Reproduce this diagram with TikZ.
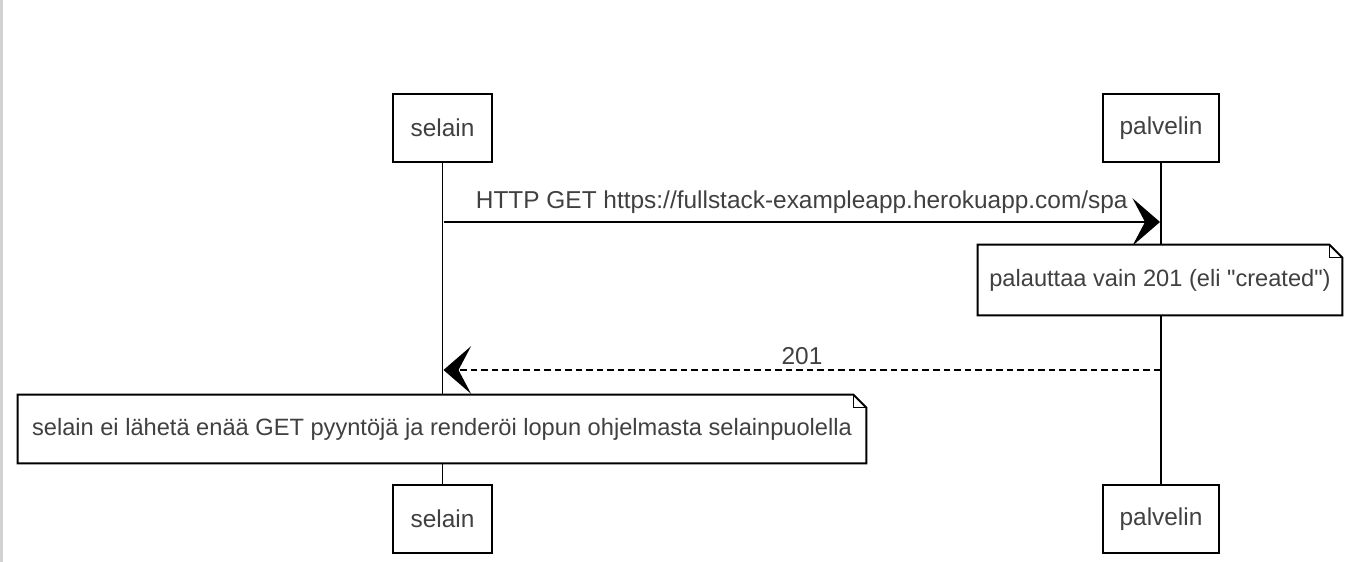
\documentclass[tikz,border=0pt]{standalone}
\usepackage{fontspec}
\setmainfont{Liberation Sans}[Ligatures=TeXOff]
\usetikzlibrary{arrows.meta}

\tikzset{
    actor/.style={draw, thick, fill=white, inner sep=0pt, minimum height=1.36cm, text=black!75},
    note/.style={fill=white, inner sep=0pt, minimum height=1.4cm, text=black!75, font=\fontsize{13.45pt}{16pt}\selectfont},
    msg/.style={line width=1.1pt, -{Stealth[length=0.55cm, width=0.95cm, inset=0.25cm]}},
}

\begin{document}
\begin{tikzpicture}[font=\fontsize{13.9pt}{16pt}\selectfont]
        % size of the folded corner on the notes
        \def\foldSize{0.26}

        \useasboundingbox (0,0) rectangle (27.12,-11.24);
        \fill[gray!35] (0,0) rectangle (0.05,-11.24);

        % Actors on top
        \node[actor, minimum width=1.98cm] (selainTop) at (8.85,-2.56) {selain};
        \node[actor, minimum width=2.32cm] (palvelinTop) at (23.22,-2.56) {palvelin};

        % Actors at the bottom
        \node[actor, minimum width=1.98cm] (selainBot) at (8.85,-10.38) {selain};
        \node[actor, minimum width=2.32cm] (palvelinBot) at (23.22,-10.38) {palvelin};

        % Lifelines
        \draw[line width=0.6pt] (selainTop) -- (selainBot);
        \draw[line width=0.6pt] (palvelinTop) -- (palvelinBot);

        % Request
        \coordinate (getFrom) at (8.87,-4.44);
        \coordinate (getTo) at (23.2,-4.44);
        \draw[msg] (getFrom) -- (getTo) node[midway, above=0.04cm, text=black!75] {HTTP GET https://fullstack-exampleapp.herokuapp.com/spa};

        % Note on the server side
        \node[note, minimum width=7.28cm] (serverNote) at (23.2,-5.6) {palauttaa vain 201 (eli "created")};
        \draw[line width=1.1pt] (serverNote.north west) -- ([xshift=-\foldSize cm]serverNote.north east) -- ([yshift=-\foldSize cm]serverNote.north east) -- (serverNote.south east) -- (serverNote.south west) -- cycle;
        \draw[line width=0.6pt] ([xshift=-\foldSize cm]serverNote.north east) -- ([xshift=-\foldSize cm, yshift=-\foldSize cm]serverNote.north east) -- ([yshift=-\foldSize cm]serverNote.north east);

        % Response
        \coordinate (resFrom) at (23.2,-7.4);
        \coordinate (resTo) at (8.87,-7.4);
        \draw[msg, dash pattern=on 0.13cm off 0.08cm] (resFrom) -- (resTo);
        \node[text=black!75] (resLabel) at (16.04,-7.12) {201};

        % Note on the browser side
        \node[note, minimum width=16.96cm, minimum height=1.36cm] (browserNote) at (8.84,-8.58) {selain ei lähetä enää GET pyyntöjä ja renderöi lopun ohjelmasta selainpuolella};
        \draw[line width=1.1pt] (browserNote.north west) -- ([xshift=-\foldSize cm]browserNote.north east) -- ([yshift=-\foldSize cm]browserNote.north east) -- (browserNote.south east) -- (browserNote.south west) -- cycle;
        \draw[line width=0.6pt] ([xshift=-\foldSize cm]browserNote.north east) -- ([xshift=-\foldSize cm, yshift=-\foldSize cm]browserNote.north east) -- ([yshift=-\foldSize cm]browserNote.north east);

\end{tikzpicture}
\end{document}
